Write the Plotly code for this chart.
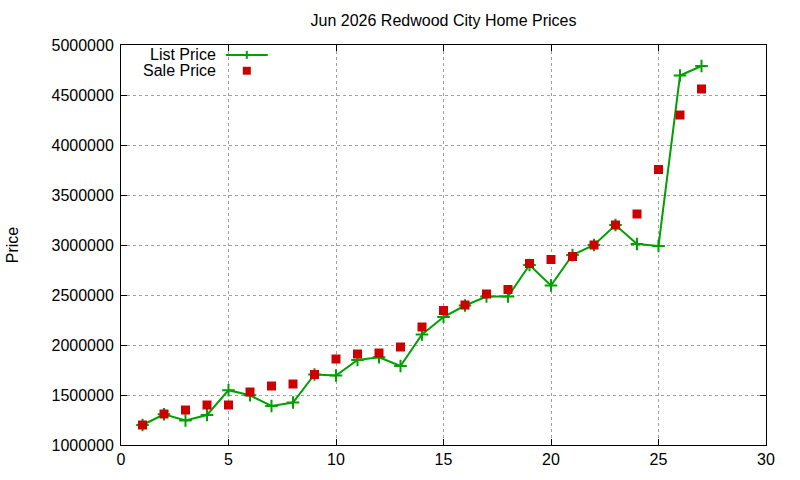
import plotly.graph_objects as go

months = list(range(1, 28))
list_price = [1200000, 1307000, 1245000, 1300000, 1548000, 1497000, 1390000, 1425000,
              1705000, 1695000, 1850000, 1878000, 1790000, 2105000, 2280000, 2395000,
              2485000, 2485000, 2800000, 2595000, 2900000, 3000000, 3200000, 3010000,
              2990000, 4695000, 4790000]
sale_price = [1200000, 1310000, 1350000, 1400000, 1400000, 1530000, 1590000, 1610000,
              1705000, 1860000, 1910000, 1920000, 1980000, 2180000, 2345000, 2400000,
              2510000, 2555000, 2815000, 2855000, 2885000, 3000000, 3200000, 3310000,
              3755000, 4300000, 4560000]
y_ticks = [1000000, 1500000, 2000000, 2500000, 3000000, 3500000, 4000000, 4500000, 5000000]
x_ticks = [0, 5, 10, 15, 20, 25, 30]

GREEN = "#00a000"
RED = "#cc0000"
FONT = "Liberation Sans, Arial, sans-serif"
FS = 16

fig = go.Figure()
fig.add_trace(go.Scatter(
    x=months, y=list_price, mode="lines+markers", name="List Price",
    line=dict(color=GREEN, width=2),
    marker=dict(symbol="cross-thin", size=9, line=dict(color=GREEN, width=2)),
))
fig.add_trace(go.Scatter(
    x=months, y=sale_price, mode="markers", name="Sale Price",
    marker=dict(symbol="square", size=9, color=RED, line=dict(width=0)),
))

W, H = 800, 480
ml, mr, mt, mb = 120, 34, 45, 31
pw, ph = W - ml - mr, H - mt - mb

def px(xp):
    return (xp - ml) / pw

def py(yp):
    return (H - mb - yp) / ph

# manual gnuplot-style legend
fig.add_annotation(x=px(217), y=py(55), xref="paper", yref="paper", text="List Price",
                   showarrow=False, xanchor="right", yanchor="middle",
                   font=dict(family=FONT, size=FS, color="black"))
fig.add_annotation(x=px(217), y=py(71), xref="paper", yref="paper", text="Sale Price",
                   showarrow=False, xanchor="right", yanchor="middle",
                   font=dict(family=FONT, size=FS, color="black"))
fig.add_shape(type="line", xref="paper", yref="paper", x0=px(225), x1=px(267),
              y0=py(55), y1=py(55), line=dict(color=GREEN, width=2))
fig.add_shape(type="line", xref="paper", yref="paper", x0=px(246), x1=px(246),
              y0=py(51), y1=py(59), line=dict(color=GREEN, width=2))
fig.add_shape(type="rect", xref="paper", yref="paper", x0=px(242), x1=px(250),
              y0=py(75), y1=py(67), line=dict(width=0), fillcolor=RED)

axis_common = dict(
    showline=True, linecolor="black", linewidth=1, mirror="allticks",
    ticks="inside", ticklen=6, tickcolor="black",
    showgrid=True, gridcolor="#a0a0a0", griddash="dot", gridwidth=1,
    zeroline=False, tickfont=dict(family=FONT, size=FS, color="black"),
)

fig.update_xaxes(range=[0, 30], tickvals=x_ticks, **axis_common)
fig.update_yaxes(range=[1000000, 5000000], tickvals=y_ticks,
                 ticktext=[str(v) for v in y_ticks], ticklabelstandoff=3,
                 title=dict(text="Price", font=dict(family=FONT, size=FS, color="black"),
                            standoff=28),
                 **axis_common)

fig.update_layout(
    width=W, height=H,
    margin=dict(l=ml, r=mr, t=mt, b=mb),
    paper_bgcolor="white", plot_bgcolor="white",
    showlegend=False,
    title=dict(text="Jun 2026 Redwood City Home Prices", xref="paper", x=0.5,
               xanchor="center", y=1 - 20 / H, yanchor="middle",
               font=dict(family=FONT, size=FS, color="black")),
)

fig.write_html("out.html")
